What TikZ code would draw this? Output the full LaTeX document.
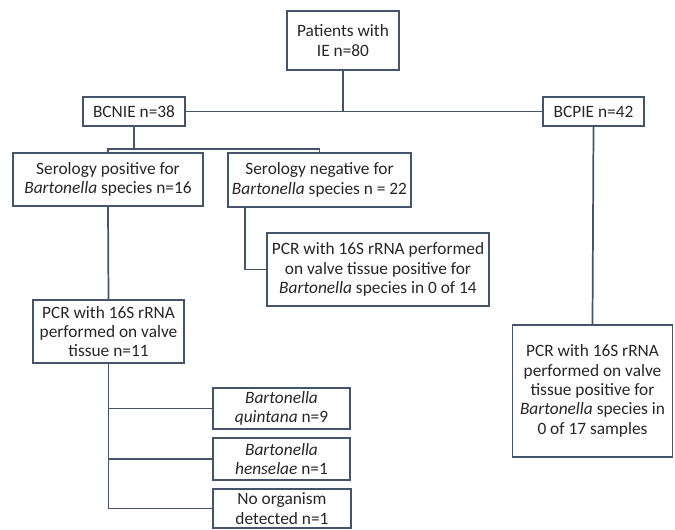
\documentclass[tikz,border=0pt]{standalone}
\usepackage{fontspec}
\setmainfont{Carlito}
\usepackage{tikz}
\definecolor{linea}{HTML}{44546A}
\tikzstyle{caja}=[draw=linea, line width=1.3pt, rectangle, align=center, inner sep=1pt, text=black!85, font=\fontsize{13}{14.5}\selectfont]
\tikzstyle{rama}=[draw=linea, line width=1.3pt]

\begin{document}
\begin{tikzpicture}[x=0.75pt,y=-0.75pt]
            \useasboundingbox (0,0) rectangle (675,530);
            % Cajas
            \node[caja, minimum width=84pt, minimum height=44pt]  (pat) at (343,40.5) {Patients with\\IE n=80};
            \node[caja, minimum width=76.5pt, minimum height=22pt]  (bcnie) at (134,111.5) {BCNIE n=38};
            \node[caja, minimum width=76pt, minimum height=22pt]  (bcpie) at (593.5,111.5) {BCPIE n=42};
            \node[caja, minimum width=142.5pt, minimum height=40pt]  (serpos) at (108,179.5) {Serology positive for\\\textit{Bartonella} species n=16};
            \node[caja, minimum width=137pt, minimum height=40.5pt]  (serneg) at (319.5,180) {Serology negative for\\\textit{Bartonella} species n = 22};
            \node[caja, minimum width=166.5pt, minimum height=55pt]  (pcrneg) at (378,269.5) {PCR with 16S rRNA performed\\on valve tissue positive for\\\textit{Bartonella} species in 0 of 14};
            \node[caja, minimum width=113pt, minimum height=47pt]  (pcrpos) at (108.5,331.5) {PCR with 16S rRNA\\performed on valve\\tissue n=11};
            \node[caja, minimum width=103pt, minimum height=31pt]  (quin) at (281.5,408.5) {\textit{Bartonella}\\\textit{quintana} n=9};
            \node[caja, minimum width=103pt, minimum height=31pt]  (hens) at (281.5,459) {\textit{Bartonella}\\\textit{henselae} n=1};
            \node[caja, minimum width=103pt, minimum height=29pt]  (noorg) at (282,508.5) {No organism\\detected n=1};
            \node[caja, minimum width=120pt, minimum height=99pt]  (pcrbcp) at (592.5,391) {PCR with 16S rRNA\\performed on valve\\tissue positive for\\\textit{Bartonella} species in\\0 of 17 samples};
            % Conexiones
            \draw[rama] (pat.south) -- (pat |- bcnie.east);
            \draw[rama] (bcnie.east) -- (bcpie.west);
            \coordinate (barra) at (108,149);
            \draw[rama] (bcnie.south) -- (bcnie |- barra);
            \draw[rama] (serpos.north) -- (serpos |- barra) -| (serneg.north);
            \draw[rama] ([xshift=18*0.75pt]serneg.south west) |- (pcrneg.west);
            \draw[rama] (serpos.south) -- (pcrpos.north);
            \draw[rama] (pcrpos.south) |- (noorg.west);
            \draw[rama] (pcrpos |- quin.west) -- (quin.west);
            \draw[rama] (pcrpos |- hens.west) -- (hens.west);
            \draw[rama] (bcpie.south) -- (pcrbcp.north);
        \end{tikzpicture}
\end{document}
